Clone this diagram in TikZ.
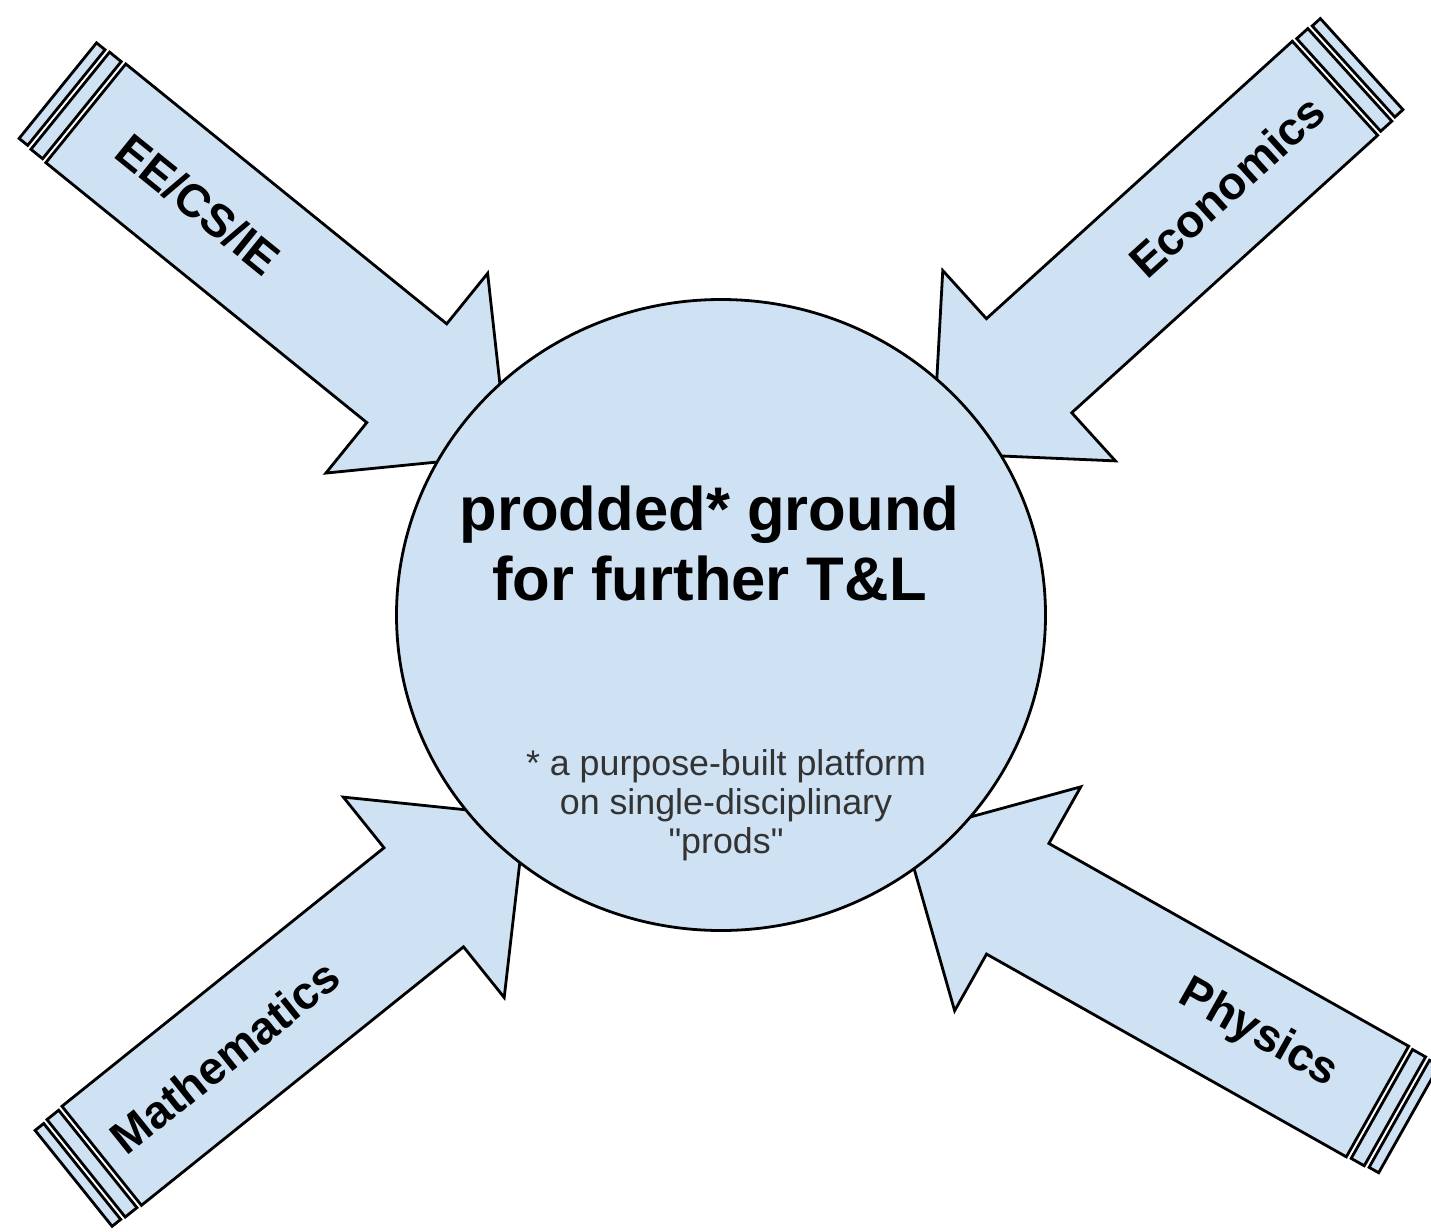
\documentclass[tikz,border=0pt]{standalone}
\usepackage{fontspec}
\setmainfont{Liberation Sans}
\newfontfamily\notefont{Liberation Sans}
\usetikzlibrary{shapes.geometric}
\definecolor{fillblue}{HTML}{CFE2F3}
\definecolor{notegray}{HTML}{333333}
\tikzset{
  arrowbody/.style={draw=black, fill=fillblue, line width=1.4pt, line join=miter},
  arrowlabel/.style={font=\fontsize{23}{23}\selectfont\bfseries, inner sep=0pt, anchor=center},
  hub/.style={ellipse, draw=black, fill=fillblue, line width=1.4pt,
    minimum width=324.5pt, minimum height=315.5pt, inner sep=0pt},
  titletext/.style={font=\fontsize{30.8}{35}\selectfont\bfseries, align=center, inner sep=0pt},
  notetext/.style={font=\notefont\fontsize{17.9}{19.5}\selectfont, text=notegray, align=center, inner sep=0pt},
}
% #1,#2 tail centre (px); #3 direction angle; #4 label node name; #5 label; #6 label angle; #7 label offset
\newcommand\prodarrow[7]{%
  \begin{scope}[shift={(#1,#2)}, rotate=#3]
    \draw[arrowbody] (0,-63.5) -- (413,-63.5) -- (413,-128.5) -- (543,0)
      -- (413,128.5) -- (413,63.5) -- (0,63.5) -- cycle;
    \draw[arrowbody] (-5,-62.5) rectangle (-20,62.5);
    \draw[arrowbody] (-25,-61.5) rectangle (-36,61.5);
    \node[arrowlabel, rotate=#6] (#4) at (#7,0) {#5};
  \end{scope}}
\begin{document}
\begin{tikzpicture}[x=0.5pt, y=-0.5pt]
  \useasboundingbox (0,0) rectangle (1431,1232);
  \prodarrow{85.8}{113.3}{-39.0}{ee}{EE/CS/IE}{-39.0}{145}
  \prodarrow{1335}{88.3}{-137.8}{econ}{Economics}{42.2}{146}
  \prodarrow{101.7}{1155.8}{38.75}{math}{Mathematics}{38.75}{158}
  \prodarrow{1377.5}{1101.5}{150.6}{phys}{Physics}{-29.4}{137}
  \node[hub] (hub) at (721,615) {};
  \node[titletext] (title) at (709.5,543) {prodded* ground\\for further T\&L};
  \node[notetext] (note) at (726,805) {* a purpose-built platform\\on single-disciplinary\\"prods"};
\end{tikzpicture}
\end{document}
